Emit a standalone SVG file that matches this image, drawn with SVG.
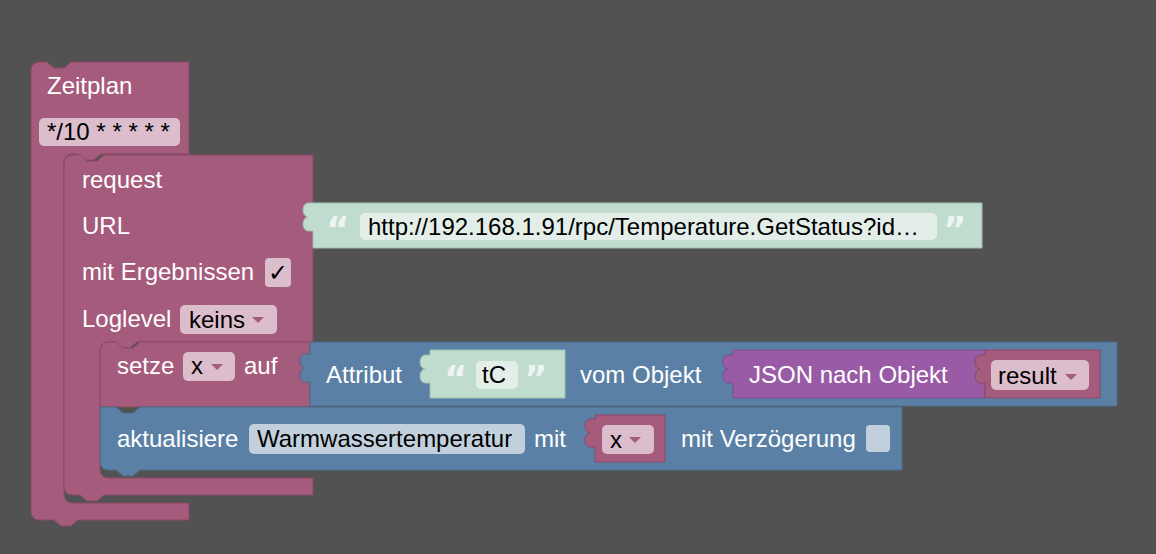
<svg xmlns="http://www.w3.org/2000/svg" width="1156" height="554" viewBox="0 0 1156 554">
<style>
.t{font-family:"Liberation Sans",Arial,sans-serif;font-size:24px;fill:#fff}
.d{font-family:"Liberation Sans",Arial,sans-serif;font-size:24px;fill:#000}
.q{font-family:"DejaVu Sans",sans-serif;font-size:36px;font-weight:bold;fill:#eef4f1}
.m{fill:#a55b7c;stroke:#8a4a66;stroke-width:1}
.b{fill:#5b80a5;stroke:#4a6a8a;stroke-width:1}
.g{fill:#c0dccf;stroke:#a0bfb0;stroke-width:1}
.p{fill:#995ba5;stroke:#7f4a8a;stroke-width:1}
.fp{fill:#dbbdcc}
.fb{fill:#c2d0dd}
.fw{fill:#e3eee9}
.ar{fill:#a55b7c}
</style>
<rect width="1156" height="554" fill="#525252"/>
<g id="zeitplan">
<path class="m" d="M31,70 a8,8 0 0 1 8,-8 H47 l7,6 h10 l7,-6 H189 V154 H101 l-7,6 h-10 l-7,-6 H72 a8,8 0 0 0 -8,8 V495 a8,8 0 0 0 8,8 H189 V520 H78 l-7,6 h-10 l-7,-6 H39 a8,8 0 0 1 -8,-8 Z"/>
<text class="t" x="47" y="94">Zeitplan</text>
<rect class="fp" x="39" y="118" width="141" height="28" rx="5"/>
<text class="d" x="47" y="140">*/10 * * * * *</text>
</g>
<g id="request">
<path class="m" d="M64,163 a8,8 0 0 1 8,-8 H80 l7,6 h10 l7,-6 H313 V342 H137 l-7,6 h-10 l-7,-6 H108 a8,8 0 0 0 -8,8 V470 a8,8 0 0 0 8,8 H313 V495 H104 l-7,6 h-10 l-7,-6 H72 a8,8 0 0 1 -8,-8 Z"/>
<text class="t" x="82" y="188">request</text>
<text class="t" x="82" y="234">URL</text>
<text class="t" x="82" y="280">mit Ergebnissen</text>
<rect class="fp" x="265" y="258" width="26" height="29" rx="4"/>
<text class="d" x="268" y="281">✓</text>
<text class="t" x="82" y="327">Loglevel</text>
<rect class="fp" x="180" y="305" width="97" height="29" rx="5"/>
<text class="d" x="189" y="328">keins</text>
<path class="ar" d="M252,317 h12 l-6,6 z"/>
</g>
<g id="url">
<path class="g" d="M313,203 h669 v45 h-669 v-17 h-5 a5,7 0 0 1 0,-14 a5,7 0 0 1 0,-14 h5 z"/>
<text class="q" x="326" y="242">“</text>
<rect class="fw" x="360" y="213" width="577" height="27" rx="5"/>
<text class="d" x="368" y="235">http://192.168.1.91/rpc/Temperature.GetStatus?id…</text>
<text class="q" x="943" y="242">”</text>
</g>
<g id="setze">
<path class="m" d="M100,350 a8,8 0 0 1 8,-8 H116 l7,6 h10 l7,-6 H310 V407 H100 Z"/>
<text class="t" x="117" y="374">setze</text>
<rect class="fp" x="183" y="352" width="52" height="29" rx="5"/>
<text class="d" x="191" y="374">x</text>
<path class="ar" d="M211,364 h12 l-6,6 z"/>
<text class="t" x="244" y="374">auf</text>
</g>
<g id="attribut">
<path class="b" d="M310,342 h807 v64 h-807 v-24 h-5 a5,7 0 0 1 0,-14 a5,7 0 0 1 0,-14 h5 z"/>
<text class="t" x="326" y="383">Attribut</text>
</g>
<g id="tc">
<path class="g" d="M430,350 h135 v48 h-135 v-15 h-5 a5,7 0 0 1 0,-14 a5,7 0 0 1 0,-14 h5 z"/>
<text class="q" x="444" y="391">“</text>
<rect class="fw" x="476" y="361" width="42" height="28" rx="5"/>
<text class="d" x="482" y="383">tC</text>
<text class="q" x="524" y="391">”</text>
<text class="t" x="580" y="383">vom Objekt</text>
</g>
<g id="json">
<path class="p" d="M733,350 h252 v48 h-252 v-15 h-5 a5,7 0 0 1 0,-14 a5,7 0 0 1 0,-14 h5 z"/>
<text class="t" x="749" y="383">JSON nach Objekt</text>
</g>
<g id="result">
<path class="m" d="M985,350 h115 v48 h-115 v-15 h-5 a5,7 0 0 1 0,-14 a5,7 0 0 1 0,-14 h5 z"/>
<rect class="fp" x="991" y="360" width="98" height="30" rx="5"/>
<text class="d" x="998" y="384">result</text>
<path class="ar" d="M1065,374 h12 l-6,6 z"/>
</g>
<g id="aktualisiere">
<path class="b" d="M100,407 H116 l7,6 h10 l7,-6 H902 V470 H140 l-7,6 h-10 l-7,-6 H108 a8,8 0 0 1 -8,-8 Z"/>
<text class="t" x="117" y="447">aktualisiere</text>
<rect class="fb" x="249" y="424" width="276" height="30" rx="5"/>
<text class="d" x="257" y="447">Warmwassertemperatur</text>
<text class="t" x="534" y="447">mit</text>
<text class="t" x="681" y="447">mit Verzögerung</text>
<rect class="fb" x="866" y="425" width="24" height="27" rx="4"/>
</g>
<g id="x">
<path class="m" d="M595,415 h70 v47 h-70 v-15 h-5 a5,7 0 0 1 0,-14 a5,7 0 0 1 0,-14 h5 z"/>
<rect class="fp" x="602" y="425" width="52" height="29" rx="5"/>
<text class="d" x="610" y="448">x</text>
<path class="ar" d="M629,437 h12 l-6,6 z"/>
</g>
<g id="connectors"></g>
</svg>
